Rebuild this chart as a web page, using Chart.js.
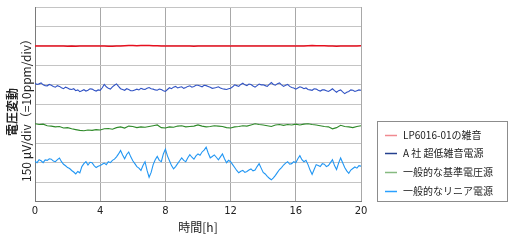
<!DOCTYPE html>
<html>
<head>
<meta charset="utf-8">
<script src="https://cdn.jsdelivr.net/npm/chart.js@4"></script>
<style>
html,body{margin:0;padding:0;background:#fff;}
#wrap{position:relative;width:513px;height:242px;}
</style>
</head>
<body>
<div id="wrap"><canvas id="c" width="513" height="242"></canvas></div>
<script>
const hours = [0,0.25,0.5,0.75,1,1.25,1.5,1.75,2,2.25,2.5,2.75,3,3.25,3.5,3.75,4,4.25,4.5,4.75,
  5,5.25,5.5,5.75,6,6.25,6.5,6.75,7,7.25,7.5,7.75,8,8.25,8.5,8.75,9,9.25,9.5,9.75,
  10,10.25,10.5,10.75,11,11.25,11.5,11.75,12,12.25,12.5,12.75,13,13.25,13.5,13.75,14,14.25,14.5,14.75,
  15,15.25,15.5,15.75,16,16.25,16.5,16.75,17,17.25,17.5,17.75,18,18.25,18.5,18.75,19,19.25,19.5,19.75,20];

const hoursFine = [0,0.125,0.25,0.375,0.5,0.625,0.75,0.875,1,1.125,1.25,1.375,1.5,1.625,1.75,1.875,
  2,2.125,2.25,2.375,2.5,2.625,2.75,2.875,3,3.125,3.25,3.375,3.5,3.625,3.75,3.875,
  4,4.125,4.25,4.375,4.5,4.625,4.75,4.875,5,5.125,5.25,5.375,5.5,5.625,5.75,5.875,
  6,6.125,6.25,6.375,6.5,6.625,6.75,6.875,7,7.125,7.25,7.375,7.5,7.625,7.75,7.875,
  8,8.125,8.25,8.375,8.5,8.625,8.75,8.875,9,9.125,9.25,9.375,9.5,9.625,9.75,9.875,
  10,10.125,10.25,10.375,10.5,10.625,10.75,10.875,11,11.125,11.25,11.375,11.5,11.625,11.75,11.875,
  12,12.125,12.25,12.375,12.5,12.625,12.75,12.875,13,13.125,13.25,13.375,13.5,13.625,13.75,13.875,
  14,14.125,14.25,14.375,14.5,14.625,14.75,14.875,15,15.125,15.25,15.375,15.5,15.625,15.75,15.875,
  16,16.125,16.25,16.375,16.5,16.625,16.75,16.875,17,17.125,17.25,17.375,17.5,17.625,17.75,17.875,
  18,18.125,18.25,18.375,18.5,18.625,18.75,18.875,19,19.125,19.25,19.375,19.5,19.625,19.75,19.875,20];

const seriesNames = ['LP6016-01の雑音', 'A 社 超低雑音電源', '一般的な基準電圧源', '一般的なリニア電源'];

// values in divisions (1 div = 150 µV)
const lp6016 = [8.00,8.00,7.99,8.00,7.99,7.99,8.00,7.99,7.98,7.99,
  7.98,7.99,7.99,8.00,7.99,8.00,8.00,7.99,7.98,7.98,
  7.99,8.00,8.01,8.02,8.02,8.01,8.02,8.02,8.02,8.01,
  8.01,8.00,8.00,8.00,7.99,8.00,8.00,7.99,7.99,7.98,
  7.99,8.00,7.99,8.00,8.00,7.99,8.00,8.00,8.00,8.00,
  7.99,8.00,8.00,8.00,7.99,8.00,8.00,8.00,8.00,8.00,
  8.00,8.00,7.99,8.00,8.00,8.00,8.00,8.01,8.02,8.01,
  8.01,8.01,8.00,7.99,7.98,7.99,8.00,8.00,8.00,8.00,
  8.01];

const companyA = [6.08,6.02,6.05,6.10,6.00,5.96,5.95,6.02,5.98,5.92,5.88,5.96,5.92,5.85,5.80,5.88,
  5.84,5.78,5.76,5.80,5.70,5.74,5.65,5.70,5.75,5.68,5.72,5.80,5.78,5.72,5.68,5.74,
  5.72,5.85,6.02,5.90,5.82,5.78,5.90,5.98,6.05,5.92,5.80,5.76,5.72,5.80,5.76,5.70,
  5.70,5.74,5.78,5.74,5.82,5.78,5.76,5.82,5.86,5.80,5.78,5.74,5.72,5.78,5.76,5.70,
  5.66,5.76,5.85,5.80,5.88,5.92,5.84,5.88,5.90,5.82,5.86,5.92,5.95,5.88,5.92,5.98,
  5.98,5.94,5.90,5.98,5.96,5.92,5.88,5.82,5.84,5.86,5.90,5.84,5.80,5.78,5.76,5.80,
  5.82,5.90,6.00,5.96,5.92,6.02,6.08,6.00,5.96,6.04,6.02,5.94,5.88,5.96,6.04,6.00,
  6.00,5.96,5.92,6.02,6.12,6.02,5.98,6.06,6.10,6.00,5.92,5.98,6.02,5.92,5.86,5.84,
  5.78,5.84,5.90,5.86,5.80,5.84,5.76,5.74,5.72,5.80,5.78,5.72,5.68,5.74,5.74,5.70,
  5.66,5.72,5.80,5.70,5.62,5.70,5.74,5.64,5.55,5.62,5.66,5.74,5.72,5.66,5.70,5.74,5.72];

const refSource = [4.00,3.96,3.98,3.90,3.88,3.84,3.86,3.78,3.80,3.74,
  3.70,3.66,3.64,3.68,3.66,3.70,3.68,3.74,3.76,3.72,
  3.80,3.84,3.78,3.88,3.86,3.80,3.84,3.82,3.86,3.90,
  3.94,3.80,3.78,3.84,3.82,3.88,3.90,3.84,3.86,3.88,
  3.94,3.88,3.84,3.86,3.90,3.88,3.86,3.80,3.78,3.84,
  3.86,3.90,3.88,3.94,4.00,3.96,3.94,3.90,3.86,3.94,
  3.96,3.92,3.96,3.94,3.98,3.94,3.98,4.00,3.96,3.94,
  3.90,3.86,3.84,3.74,3.80,3.92,3.86,3.84,3.80,3.86,
  3.90];

const linearPSU = [2.07,2.00,2.15,2.10,2.00,2.14,2.12,2.20,2.18,2.08,2.05,2.16,2.24,2.05,1.92,1.84,
  1.75,1.70,1.60,1.52,1.42,1.55,1.48,1.80,1.95,2.05,1.88,2.02,2.00,1.85,1.75,1.82,
  1.85,1.92,1.98,1.90,2.05,2.00,2.12,2.18,2.30,2.45,2.63,2.40,2.20,2.42,2.55,2.30,
  2.10,1.95,1.80,1.72,1.60,1.85,2.05,1.60,1.25,1.50,1.90,2.15,2.32,2.12,2.05,2.45,
  2.70,2.35,2.10,1.85,1.68,1.80,1.95,2.10,2.25,2.12,2.05,2.25,2.41,2.28,2.18,2.35,
  2.45,2.38,2.55,2.65,2.80,2.50,2.25,2.32,2.40,2.28,2.15,2.30,2.45,2.20,2.00,2.12,
  2.05,1.90,1.75,1.60,1.48,1.56,1.60,1.50,1.55,1.62,1.68,1.58,1.62,1.80,1.95,1.72,
  1.50,1.42,1.30,1.20,1.12,1.22,1.35,1.50,1.65,1.75,1.88,1.98,2.05,1.92,1.95,2.05,
  2.00,2.20,2.36,2.15,2.05,2.12,1.90,1.62,1.40,1.65,1.90,1.85,1.80,1.95,1.92,1.80,
  1.85,2.00,2.15,1.85,1.65,1.98,2.24,2.00,1.75,1.58,1.45,1.62,1.70,1.78,1.72,1.85,1.82];

const xTickLabels = [0, 4, 8, 12, 16, 20];
const yTitle = ['電圧変動', '150 µV/div（=10ppm/div）'];
const xTitle = '時間[h]';

const lineColors = ['#e60f1e', '#3153c4', '#2f8a2a', '#2196f3'];
const legendColors = ['#f08a90', '#24408f', '#86ba80', '#2aa0ff'];

function pts(xs, vals){ return vals.map((v,i)=>({x:xs[i], y:v})); }

const cjk = "'Noto Sans CJK JP', 'DejaVu Sans', sans-serif";

const boxLegend = {
  id: 'boxLegend',
  afterDraw(chart){
    const ctx = chart.ctx;
    ctx.save();
    ctx.strokeStyle = '#8c8c8c';
    ctx.lineWidth = 1;
    ctx.strokeRect(377.5, 121.5, 130, 80);
    const ys = [135, 153, 172, 191];
    ctx.font = "10px " + cjk;
    ctx.textBaseline = 'middle';
    ctx.textAlign = 'left';
    chart.data.datasets.forEach((ds, i) => {
      ctx.strokeStyle = legendColors[i];
      ctx.lineWidth = 1.5;
      ctx.beginPath();
      ctx.moveTo(385, ys[i] + 0.5);
      ctx.lineTo(397, ys[i] + 0.5);
      ctx.stroke();
      ctx.fillStyle = '#222';
      ctx.fillText(ds.label, 403, ys[i]);
    });
    // y-axis title (two rotated lines)
    ctx.fillStyle = '#222';
    ctx.textAlign = 'center';
    ctx.textBaseline = 'middle';
    ctx.save();
    ctx.translate(12, 112);
    ctx.rotate(-Math.PI / 2);
    ctx.font = "bold 12px " + cjk;
    ctx.fillText(yTitle[0], 0, 0);
    ctx.restore();
    ctx.save();
    ctx.translate(26.5, 107.5);
    ctx.rotate(-Math.PI / 2);
    ctx.font = "12px " + cjk;
    ctx.fillText(yTitle[1], 0, 0);
    ctx.restore();
    ctx.restore();
  }
};

new Chart(document.getElementById('c'), {
  type: 'line',
  data: {
    datasets: [
      {label: seriesNames[0], data: pts(hours, lp6016), borderColor: lineColors[0], borderWidth: 1.5},
      {label: seriesNames[1], data: pts(hoursFine, companyA), borderColor: lineColors[1], borderWidth: 1.1},
      {label: seriesNames[2], data: pts(hours, refSource), borderColor: lineColors[2], borderWidth: 1.1},
      {label: seriesNames[3], data: pts(hoursFine, linearPSU), borderColor: lineColors[3], borderWidth: 1.1}
    ]
  },
  options: {
    responsive: false,
    animation: false,
    devicePixelRatio: 1,
    elements: { point: { radius: 0 }, line: { tension: 0 } },
    layout: { padding: { top: 7, right: 152, bottom: 0, left: 35 } },
    plugins: { legend: { display: false }, tooltip: { enabled: false } },
    scales: {
      x: {
        type: 'linear', min: 0, max: 20,
        afterBuildTicks(scale){ scale.ticks = xTickLabels.map(v => ({value: v})); },
        grid: { color: '#a8a8a8', drawTicks: false },
        border: { color: '#7a7a7a' },
        ticks: { padding: 4, color: '#222', font: { family: 'DejaVu Sans', size: 10 } },
        title: { display: true, text: xTitle, color: '#222', padding: { top: -1, bottom: 7 },
                 font: { family: cjk, size: 12 } }
      },
      y: {
        type: 'linear', min: 0, max: 10,
        ticks: { display: false, stepSize: 1 },
        grid: { color: '#c4c4c4', drawTicks: false },
        border: { color: '#7a7a7a' },
        title: { display: false }
      }
    }
  },
  plugins: [boxLegend]
});
</script>
</body>
</html>
